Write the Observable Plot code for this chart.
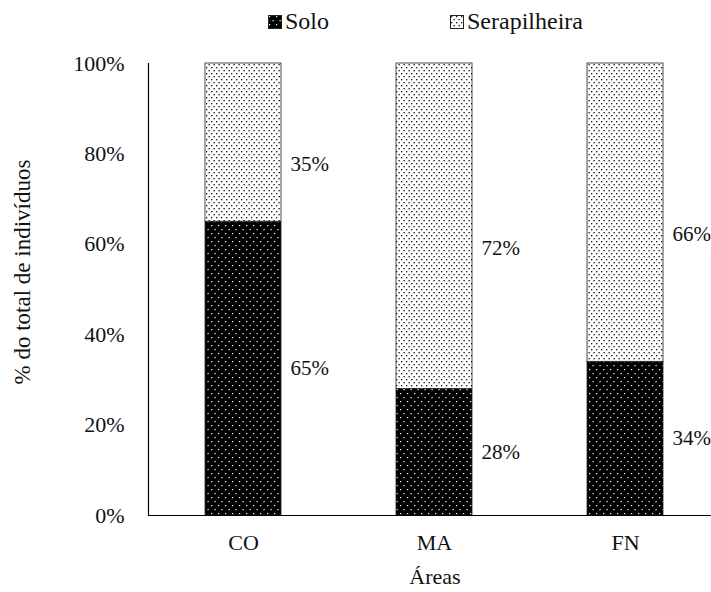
<!DOCTYPE html>
<html><head><meta charset="utf-8">
<script src="https://cdn.jsdelivr.net/npm/d3@7"></script>
<script src="https://cdn.jsdelivr.net/npm/@observablehq/plot@0.6"></script>
<style>
body{margin:0;background:#fff;font-family:"Liberation Serif","Times New Roman","DejaVu Serif",serif;}
#wrap{position:relative;width:711px;height:592px;overflow:hidden;}
#legend{position:absolute;top:8px;left:0;width:711px;height:30px;font-size:24px;color:#111;}
.li{position:absolute;display:flex;align-items:center;gap:3px;}
#ytitle{position:absolute;left:23px;top:272px;transform:translate(-50%,-50%) rotate(-90deg);white-space:nowrap;font-size:23px;color:#111;}
</style>
</head><body>
<div id="wrap"><div id="legend"></div><div id="ytitle"></div></div>
<script>
const areas = ["CO", "MA", "FN"];
const series = ["Solo", "Serapilheira"];
const solo = [65, 28, 34];
const serapilheira = [35, 72, 66];
const yTicks = [0, 20, 40, 60, 80, 100];
const yTitle = "% do total de indivíduos";
const xTitle = "Áreas";

const rows = [];
areas.forEach((a, i) => {
  rows.push({area: a, serie: "Solo", value: solo[i]});
  rows.push({area: a, serie: "Serapilheira", value: serapilheira[i]});
});
const fillUrls = ["url(#patSolo)", "url(#patSera)"];
const font = "'Liberation Serif','Times New Roman','DejaVu Serif',serif";
const fs = 22;

const labelMark = (serie, dy) => Plot.text(rows, Plot.stackY({
  order: series, x: "area", y: "value", z: "serie",
  text: d => d.serie === serie ? d.value + "%" : null,
  dx: 47, dy, textAnchor: "start", fill: "#111", fontSize: 21
}));

const chart = Plot.plot({
  width: 711, height: 592,
  marginLeft: 148, marginRight: 0, marginTop: 63, marginBottom: 77,
  style: {fontFamily: font, fontSize: fs + "px", color: "#111", background: "#fff"},
  x: {domain: areas, range: [148, 721], paddingInner: 0.6, paddingOuter: 0.3, axis: null},
  y: {domain: [0, 100], axis: null},
  color: {type: "ordinal", domain: series, range: fillUrls},
  marks: [
    Plot.barY(rows, Plot.stackY({order: series, x: "area", y: "value", z: "serie", fill: "serie", stroke: "#222", strokeWidth: 0.8})),
    labelMark("Solo", 0),
    labelMark("Serapilheira", 22),
    Plot.axisY({ticks: yTicks, tickFormat: d => d + "%", tickSize: 0, tickPadding: 24, fontSize: fs, label: null}),
    Plot.axisX({tickSize: 0, tickPadding: 19, fontSize: fs, label: null}),
    Plot.frame({anchor: "left", stroke: "#000", strokeWidth: 1.2}),
    Plot.ruleY([0], {stroke: "#000", strokeWidth: 1.2}),
    Plot.text([xTitle], {frameAnchor: "bottom", dx: 5, dy: 68, fontSize: fs, fill: "#111"})
  ]
});

const svg = d3.select(chart);
const defs = svg.insert("defs", ":first-child");
const p1 = defs.append("pattern").attr("id", "patSolo").attr("patternUnits", "userSpaceOnUse").attr("width", 7).attr("height", 8);
p1.append("rect").attr("width", 7).attr("height", 8).attr("fill", "#000");
p1.append("rect").attr("x", 1).attr("y", 1).attr("width", 1.2).attr("height", 1.2).attr("fill", "#fff");
p1.append("rect").attr("x", 4.5).attr("y", 5).attr("width", 1.2).attr("height", 1.2).attr("fill", "#fff");
const p2 = defs.append("pattern").attr("id", "patSera").attr("patternUnits", "userSpaceOnUse").attr("width", 5).attr("height", 6);
p2.append("rect").attr("width", 5).attr("height", 6).attr("fill", "#fff");
p2.append("rect").attr("x", 1).attr("y", 1).attr("width", 1.3).attr("height", 1.3).attr("fill", "#111");
p2.append("rect").attr("x", 3.5).attr("y", 4).attr("width", 1.3).attr("height", 1.3).attr("fill", "#111");

document.getElementById("wrap").prepend(chart);
document.getElementById("ytitle").textContent = yTitle;

const legend = document.getElementById("legend");
const legendPos = [268, 450];
series.forEach((s, i) => {
  const el = document.createElement("div");
  el.className = "li";
  el.style.left = legendPos[i] + "px";
  el.innerHTML = `<svg width="14" height="14" style="display:block"><rect x="0.5" y="0.5" width="13" height="13" fill="${fillUrls[i]}" stroke="#222"/></svg><span>${s}</span>`;
  legend.appendChild(el);
});
</script>
</body></html>
